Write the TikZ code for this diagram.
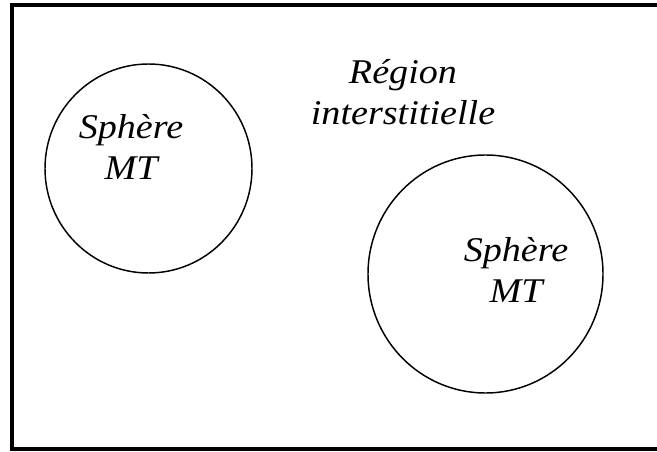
\documentclass[tikz,border=0pt]{standalone}
\usepackage{fontspec}
\setmainfont{Liberation Serif}[FakeStretch=1.1]
\begin{document}
\begin{tikzpicture}[x=0.75pt,y=-0.75pt,
  frameline/.style={line width=2.3pt,black},
  sphere/.style={draw,line width=1.1pt,black},
  lbl/.style={font=\fontsize{26}{31}\selectfont\itshape,align=center,inner sep=0pt,anchor=base}]
\useasboundingbox (0,0) rectangle (657,452);
\coordinate (tl) at (12,5);
\coordinate (tr) at (657,5);
\coordinate (bl) at (12,449);
\coordinate (br) at (657,449);
\draw[frameline,line cap=rect] (tr) -- (tl) -- (bl) -- (br);
\draw[sphere] (148.5,168.5) ellipse [x radius=103.5, y radius=104.5];
\draw[sphere] (485.5,274) ellipse [x radius=117.5, y radius=119];
\node[lbl] (s1) at (131,180) {Sphère\\MT};
\node[lbl] (s2) at (516,303) {Sphère\\MT};
\node[lbl] (reg) at (403,125) {Région\\interstitielle};
\end{tikzpicture}
\end{document}
